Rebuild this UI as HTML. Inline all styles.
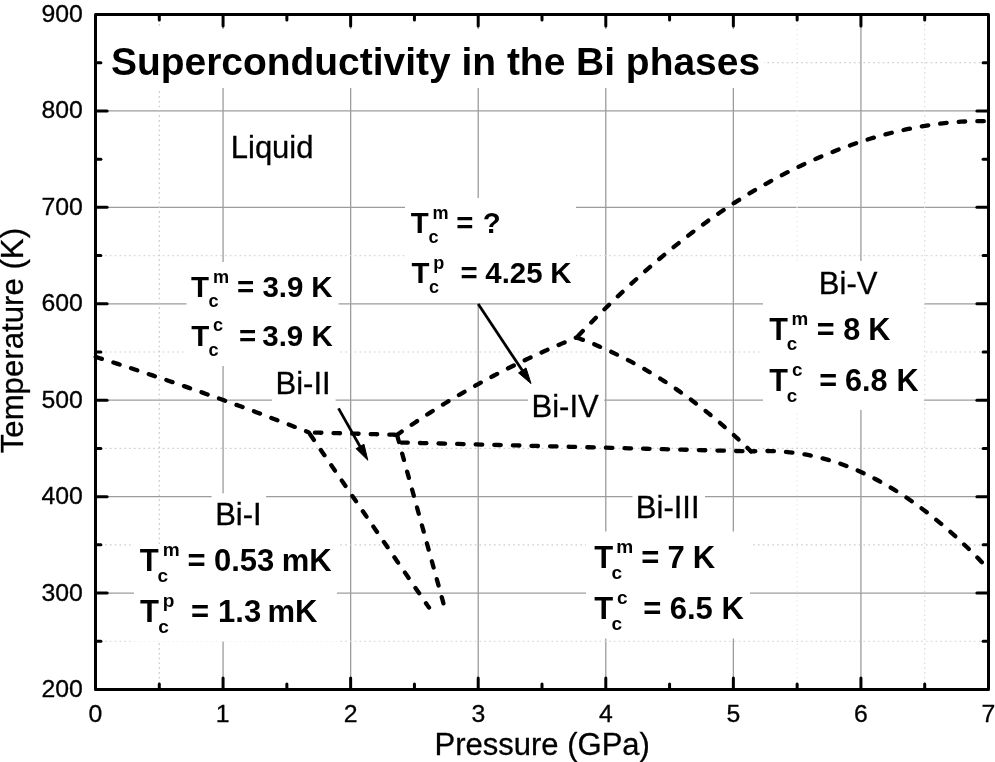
<!DOCTYPE html>
<html><head><meta charset="utf-8"><title>Superconductivity in the Bi phases</title>
<style>html,body{margin:0;padding:0;background:#fff;}body{width:995px;height:762px;overflow:hidden;}svg{display:block;filter:grayscale(100%);}</style>
</head><body>
<svg width="995" height="762" viewBox="0 0 995 762">
<rect x="0" y="0" width="995" height="762" fill="#fff"/>
<line x1="223.07" y1="14.50" x2="223.07" y2="689.50" stroke="#9c9c9c" stroke-width="1.3"/>
<line x1="350.64" y1="14.50" x2="350.64" y2="689.50" stroke="#9c9c9c" stroke-width="1.3"/>
<line x1="478.21" y1="14.50" x2="478.21" y2="689.50" stroke="#9c9c9c" stroke-width="1.3"/>
<line x1="605.79" y1="14.50" x2="605.79" y2="689.50" stroke="#9c9c9c" stroke-width="1.3"/>
<line x1="733.36" y1="14.50" x2="733.36" y2="689.50" stroke="#9c9c9c" stroke-width="1.3"/>
<line x1="860.93" y1="14.50" x2="860.93" y2="689.50" stroke="#9c9c9c" stroke-width="1.3"/>
<line x1="95.50" y1="593.07" x2="988.50" y2="593.07" stroke="#9c9c9c" stroke-width="1.3"/>
<line x1="95.50" y1="496.64" x2="988.50" y2="496.64" stroke="#9c9c9c" stroke-width="1.3"/>
<line x1="95.50" y1="400.21" x2="988.50" y2="400.21" stroke="#9c9c9c" stroke-width="1.3"/>
<line x1="95.50" y1="303.79" x2="988.50" y2="303.79" stroke="#9c9c9c" stroke-width="1.3"/>
<line x1="95.50" y1="207.36" x2="988.50" y2="207.36" stroke="#9c9c9c" stroke-width="1.3"/>
<line x1="95.50" y1="110.93" x2="988.50" y2="110.93" stroke="#9c9c9c" stroke-width="1.3"/>
<line x1="159.29" y1="14.50" x2="159.29" y2="689.50" stroke="#c6c6c6" stroke-width="1.2" stroke-dasharray="1.6 3.2"/>
<line x1="797.14" y1="14.50" x2="797.14" y2="689.50" stroke="#ececec" stroke-width="1.2" stroke-dasharray="1.6 3.2"/>
<line x1="924.71" y1="14.50" x2="924.71" y2="689.50" stroke="#dcdcdc" stroke-width="1.2" stroke-dasharray="1.6 3.2"/>
<line x1="95.50" y1="62.71" x2="988.50" y2="62.71" stroke="#cccccc" stroke-width="1.2" stroke-dasharray="1.6 3.2"/>
<line x1="95.50" y1="255.57" x2="988.50" y2="255.57" stroke="#d6d6d6" stroke-width="1.2" stroke-dasharray="1.6 3.2"/>
<line x1="95.50" y1="352.00" x2="988.50" y2="352.00" stroke="#cccccc" stroke-width="1.2" stroke-dasharray="1.6 3.2"/>
<line x1="95.50" y1="448.43" x2="988.50" y2="448.43" stroke="#cdcdcd" stroke-width="1.2" stroke-dasharray="1.6 3.2"/>
<line x1="95.50" y1="544.86" x2="988.50" y2="544.86" stroke="#cccccc" stroke-width="1.2" stroke-dasharray="1.6 3.2"/>
<line x1="95.50" y1="641.29" x2="988.50" y2="641.29" stroke="#dadada" stroke-width="1.2" stroke-dasharray="1.6 3.2"/>
<rect x="101" y="29" width="663.00" height="59.00" fill="#fff"/>
<rect x="226" y="124" width="94.00" height="44.00" fill="#fff"/>
<rect x="186.5" y="262" width="152.00" height="104.00" fill="#fff"/>
<rect x="405" y="198" width="171.00" height="105.00" fill="#fff"/>
<rect x="272" y="362" width="63.60" height="43.00" fill="#fff"/>
<rect x="211.6" y="493.3" width="54.50" height="51.70" fill="#fff"/>
<rect x="134" y="544" width="203.00" height="97.60" fill="#fff"/>
<rect x="528" y="385" width="76.20" height="42.00" fill="#fff"/>
<rect x="763" y="261" width="161.00" height="149.00" fill="#fff"/>
<rect x="632.5" y="488" width="72.50" height="40.00" fill="#fff"/>
<rect x="586" y="531.5" width="164.00" height="107.10" fill="#fff"/>
<path d="M95.50,356.80 L99.07,357.95 L102.64,359.08 L106.21,360.21 L109.78,361.35 L113.35,362.50 L116.92,363.65 L120.49,364.80 L124.06,365.96 L127.63,367.12 L131.20,368.29 L134.77,369.46 L138.34,370.64 L141.91,371.82 L145.48,373.01 L149.05,374.20 L152.62,375.40 L156.19,376.60 L159.76,377.81 L163.33,379.02 L166.90,380.23 L170.47,381.45 L174.04,382.68 L177.61,383.91 L181.18,385.14 L184.75,386.38 L188.32,387.63 L191.89,388.87 L195.46,390.13 L199.03,391.39 L202.60,392.65 L206.17,393.92 L209.74,395.19 L213.31,396.46 L216.88,397.75 L220.45,399.03 L224.02,400.32 L227.59,401.62 L231.16,402.92 L234.73,404.23 L238.29,405.54 L241.86,406.85 L245.43,408.17 L249.00,409.49 L252.57,410.82 L256.14,412.16 L259.71,413.50 L263.28,414.84 L266.85,416.19 L270.42,417.54 L273.99,418.90 L277.56,420.26 L281.13,421.63 L284.70,423.00 L288.27,424.37 L291.84,425.75 L295.41,427.14 L298.98,428.53 L302.55,429.93 L306.12,431.33 L308.80,432.40" stroke="#000" stroke-width="4.3" fill="none" stroke-linecap="round" stroke-linejoin="round" stroke-dasharray="6.5 12.10" stroke-dashoffset="18.42"/>
<path d="M308.80,432.40 L310.77,435.33 L312.78,438.26 L314.80,441.20 L316.81,444.13 L318.82,447.06 L320.83,449.99 L322.84,452.93 L324.85,455.86 L326.87,458.79 L328.88,461.72 L330.89,464.65 L332.90,467.59 L334.91,470.52 L336.92,473.45 L338.93,476.38 L340.95,479.32 L342.96,482.25 L344.97,485.18 L346.98,488.11 L348.99,491.04 L351.00,493.98 L353.02,496.91 L355.03,499.84 L357.04,502.77 L359.05,505.71 L361.06,508.64 L363.07,511.57 L365.09,514.50 L367.10,517.43 L369.11,520.37 L371.12,523.30 L373.13,526.23 L375.14,529.16 L377.15,532.10 L379.17,535.03 L381.18,537.96 L383.19,540.89 L385.20,543.82 L387.21,546.76 L389.22,549.69 L391.24,552.62 L393.25,555.55 L395.26,558.49 L397.27,561.42 L399.28,564.35 L401.29,567.28 L403.31,570.21 L405.32,573.15 L407.33,576.08 L409.34,579.01 L411.35,581.94 L413.36,584.88 L415.37,587.81 L417.39,590.74 L419.40,593.67 L421.41,596.60 L423.42,599.54 L425.43,602.47 L427.44,605.40 L429.00,607.60" stroke="#000" stroke-width="4.3" fill="none" stroke-linecap="round" stroke-linejoin="round" stroke-dasharray="6.5 12.10" stroke-dashoffset="15.98"/>
<path d="M308.80,432.40 L310.28,432.46 L311.76,432.50 L313.23,432.54 L314.71,432.58 L316.19,432.62 L317.67,432.66 L319.14,432.70 L320.62,432.74 L322.10,432.78 L323.58,432.82 L325.06,432.86 L326.53,432.90 L328.01,432.94 L329.49,432.98 L330.97,433.02 L332.45,433.06 L333.92,433.10 L335.40,433.14 L336.88,433.18 L338.36,433.22 L339.83,433.26 L341.31,433.30 L342.79,433.34 L344.27,433.38 L345.75,433.42 L347.22,433.46 L348.70,433.50 L350.18,433.54 L351.66,433.58 L353.13,433.62 L354.61,433.66 L356.09,433.70 L357.57,433.74 L359.05,433.78 L360.52,433.82 L362.00,433.86 L363.48,433.90 L364.96,433.94 L366.44,433.98 L367.91,434.02 L369.39,434.06 L370.87,434.10 L372.35,434.14 L373.82,434.18 L375.30,434.22 L376.78,434.26 L378.26,434.30 L379.74,434.34 L381.21,434.38 L382.69,434.42 L384.17,434.46 L385.65,434.51 L387.12,434.55 L388.60,434.59 L390.08,434.63 L391.56,434.67 L393.04,434.71 L394.51,434.75 L395.99,434.79 L397.10,434.80" stroke="#000" stroke-width="4.3" fill="none" stroke-linecap="round" stroke-linejoin="round" stroke-dasharray="6.5 12.10" stroke-dashoffset="12.48"/>
<path d="M397.10,434.80 L397.79,437.65 L398.58,440.50 L399.36,443.35 L400.15,446.19 L400.93,449.04 L401.72,451.89 L402.50,454.74 L403.29,457.59 L404.07,460.44 L404.86,463.29 L405.64,466.13 L406.43,468.98 L407.21,471.83 L408.00,474.68 L408.78,477.53 L409.57,480.38 L410.35,483.23 L411.14,486.07 L411.92,488.92 L412.71,491.77 L413.49,494.62 L414.28,497.47 L415.06,500.32 L415.84,503.16 L416.63,506.01 L417.41,508.86 L418.20,511.71 L418.98,514.56 L419.77,517.41 L420.55,520.26 L421.34,523.10 L422.12,525.95 L422.91,528.80 L423.69,531.65 L424.48,534.50 L425.26,537.35 L426.05,540.20 L426.83,543.04 L427.62,545.89 L428.40,548.74 L429.19,551.59 L429.97,554.44 L430.76,557.29 L431.54,560.14 L432.33,562.98 L433.11,565.83 L433.90,568.68 L434.68,571.53 L435.47,574.38 L436.25,577.23 L437.04,580.08 L437.82,582.92 L438.61,585.77 L439.39,588.62 L440.18,591.47 L440.96,594.32 L441.75,597.17 L442.53,600.02 L443.32,602.86 L444.00,605.00" stroke="#000" stroke-width="4.3" fill="none" stroke-linecap="round" stroke-linejoin="round" stroke-dasharray="6.5 12.10" stroke-dashoffset="17.67"/>
<path d="M397.10,434.80 L400.10,432.69 L403.11,430.59 L406.11,428.52 L409.11,426.47 L412.11,424.43 L415.12,422.42 L418.12,420.42 L421.12,418.44 L424.12,416.47 L427.13,414.53 L430.13,412.60 L433.13,410.69 L436.13,408.80 L439.14,406.93 L442.14,405.07 L445.14,403.23 L448.14,401.40 L451.15,399.60 L454.15,397.81 L457.15,396.03 L460.15,394.28 L463.16,392.54 L466.16,390.81 L469.16,389.10 L472.16,387.41 L475.17,385.73 L478.17,384.07 L481.17,382.43 L484.17,380.80 L487.18,379.18 L490.18,377.58 L493.18,376.00 L496.18,374.43 L499.19,372.87 L502.19,371.33 L505.19,369.80 L508.19,368.29 L511.20,366.80 L514.20,365.31 L517.20,363.84 L520.20,362.39 L523.21,360.95 L526.21,359.52 L529.21,358.10 L532.21,356.70 L535.22,355.31 L538.22,353.94 L541.22,352.58 L544.22,351.23 L547.23,349.89 L550.23,348.57 L553.23,347.26 L556.23,345.96 L559.24,344.67 L562.24,343.39 L565.24,342.13 L568.24,340.88 L571.25,339.64 L574.25,338.41 L576.50,337.50" stroke="#000" stroke-width="4.3" fill="none" stroke-linecap="round" stroke-linejoin="round" stroke-dasharray="6.5 12.10" stroke-dashoffset="0.85"/>
<path d="M399.30,442.50 L405.19,442.63 L411.07,442.78 L416.96,442.93 L422.84,443.08 L428.73,443.22 L434.62,443.37 L440.50,443.52 L446.39,443.67 L452.28,443.82 L458.16,443.97 L464.05,444.12 L469.93,444.27 L475.82,444.42 L481.71,444.57 L487.59,444.72 L493.48,444.86 L499.37,445.01 L505.25,445.16 L511.14,445.31 L517.02,445.46 L522.91,445.61 L528.80,445.76 L534.68,445.91 L540.57,446.06 L546.45,446.21 L552.34,446.36 L558.23,446.51 L564.11,446.65 L570.00,446.80 L575.89,446.95 L581.77,447.10 L587.66,447.25 L593.54,447.40 L599.43,447.55 L605.32,447.70 L611.20,447.85 L617.09,448.00 L622.98,448.15 L628.86,448.29 L634.75,448.44 L640.63,448.59 L646.52,448.74 L652.41,448.89 L658.29,449.04 L664.18,449.19 L670.06,449.34 L675.95,449.49 L681.84,449.64 L687.72,449.79 L693.61,449.93 L699.50,450.08 L705.38,450.23 L711.27,450.38 L717.15,450.53 L723.04,450.68 L728.93,450.83 L734.81,450.98 L740.70,451.13 L746.59,451.28 L751.00,451.40" stroke="#000" stroke-width="4.3" fill="none" stroke-linecap="round" stroke-linejoin="round" stroke-dasharray="6.5 12.10" stroke-dashoffset="16.57"/>
<path d="M576.50,337.50 L579.42,338.57 L582.34,339.65 L585.26,340.77 L588.18,341.91 L591.10,343.08 L594.02,344.27 L596.94,345.49 L599.86,346.73 L602.78,348.00 L605.71,349.30 L608.63,350.62 L611.55,351.97 L614.47,353.35 L617.39,354.75 L620.31,356.19 L623.23,357.65 L626.15,359.13 L629.07,360.65 L631.99,362.19 L634.91,363.77 L637.83,365.37 L640.75,367.00 L643.67,368.66 L646.59,370.34 L649.51,372.06 L652.43,373.81 L655.35,375.58 L658.27,377.39 L661.19,379.23 L664.12,381.09 L667.04,382.99 L669.96,384.92 L672.88,386.88 L675.80,388.87 L678.72,390.89 L681.64,392.94 L684.56,395.03 L687.48,397.14 L690.40,399.29 L693.32,401.47 L696.24,403.68 L699.16,405.93 L702.08,408.21 L705.00,410.52 L707.92,412.86 L710.84,415.24 L713.76,417.65 L716.68,420.09 L719.60,422.57 L722.53,425.08 L725.45,427.63 L728.37,430.21 L731.29,432.83 L734.21,435.48 L737.13,438.16 L740.05,440.88 L742.97,443.64 L745.89,446.43 L748.81,449.26 L751.00,451.40" stroke="#000" stroke-width="4.3" fill="none" stroke-linecap="round" stroke-linejoin="round" stroke-dasharray="6.5 12.10" stroke-dashoffset="18.24"/>
<path d="M576.50,337.50 L583.36,330.45 L590.23,323.45 L597.09,316.55 L603.95,309.75 L610.82,303.05 L617.68,296.46 L624.55,289.98 L631.41,283.61 L638.27,277.37 L645.14,271.23 L652.00,265.23 L658.86,259.34 L665.73,253.57 L672.59,247.94 L679.45,242.42 L686.32,237.04 L693.18,231.78 L700.04,226.64 L706.91,221.64 L713.77,216.76 L720.64,212.01 L727.50,207.39 L734.36,202.89 L741.23,198.52 L748.09,194.27 L754.95,190.15 L761.82,186.15 L768.68,182.28 L775.54,178.52 L782.41,174.89 L789.27,171.37 L796.14,167.98 L803.00,164.71 L809.86,161.55 L816.73,158.51 L823.59,155.58 L830.45,152.77 L837.32,150.08 L844.18,147.50 L851.04,145.03 L857.91,142.68 L864.77,140.45 L871.63,138.32 L878.50,136.32 L885.36,134.43 L892.23,132.65 L899.09,131.00 L905.95,129.46 L912.82,128.05 L919.68,126.76 L926.54,125.59 L933.41,124.55 L940.27,123.64 L947.13,122.86 L954.00,122.23 L960.86,121.73 L967.73,121.38 L974.59,121.18 L981.45,121.13 L986.60,121.20" stroke="#000" stroke-width="4.3" fill="none" stroke-linecap="round" stroke-linejoin="round" stroke-dasharray="6.5 12.10" stroke-dashoffset="16.07"/>
<path d="M751.00,451.40 L754.87,451.23 L758.74,451.09 L762.60,451.02 L766.47,451.01 L770.34,451.06 L774.21,451.18 L778.07,451.36 L781.94,451.60 L785.81,451.91 L789.68,452.29 L793.55,452.73 L797.41,453.25 L801.28,453.83 L805.15,454.49 L809.02,455.22 L812.88,456.01 L816.75,456.89 L820.62,457.83 L824.49,458.84 L828.36,459.93 L832.22,461.09 L836.09,462.33 L839.96,463.64 L843.83,465.02 L847.69,466.48 L851.56,468.01 L855.43,469.61 L859.30,471.29 L863.17,473.04 L867.03,474.86 L870.90,476.76 L874.77,478.73 L878.64,480.77 L882.50,482.89 L886.37,485.08 L890.24,487.34 L894.11,489.68 L897.98,492.09 L901.84,494.57 L905.71,497.12 L909.58,499.74 L913.45,502.44 L917.31,505.21 L921.18,508.05 L925.05,510.96 L928.92,513.95 L932.79,517.00 L936.65,520.13 L940.52,523.33 L944.39,526.60 L948.26,529.95 L952.12,533.37 L955.99,536.86 L959.86,540.43 L963.73,544.07 L967.60,547.78 L971.46,551.57 L975.33,555.44 L979.20,559.38 L982.10,562.40" stroke="#000" stroke-width="4.3" fill="none" stroke-linecap="round" stroke-linejoin="round" stroke-dasharray="6.5 12.10" stroke-dashoffset="2.18"/>
<line x1="338.5" y1="408.4" x2="361.01" y2="448.19" stroke="#000" stroke-width="2.8"/>
<path d="M367.80,460.20 L356.10,448.66 L363.94,444.23 Z" fill="#000" stroke="#000" stroke-width="1" stroke-linejoin="round"/>
<line x1="478.2" y1="304.0" x2="523.37" y2="372.10" stroke="#000" stroke-width="2.8"/>
<path d="M531.00,383.60 L518.52,372.92 L526.02,367.95 Z" fill="#000" stroke="#000" stroke-width="1" stroke-linejoin="round"/>
<rect x="95.5" y="14.5" width="893.0" height="675.0" fill="none" stroke="#000" stroke-width="3" stroke-linejoin="round"/>
<line x1="159.29" y1="689.50" x2="159.29" y2="684.10" stroke="#000" stroke-width="3" stroke-linecap="round"/>
<line x1="159.29" y1="14.50" x2="159.29" y2="19.90" stroke="#000" stroke-width="3" stroke-linecap="round"/>
<line x1="223.07" y1="689.50" x2="223.07" y2="677.90" stroke="#000" stroke-width="3" stroke-linecap="round"/>
<line x1="223.07" y1="14.50" x2="223.07" y2="26.10" stroke="#000" stroke-width="3" stroke-linecap="round"/>
<line x1="286.86" y1="689.50" x2="286.86" y2="684.10" stroke="#000" stroke-width="3" stroke-linecap="round"/>
<line x1="286.86" y1="14.50" x2="286.86" y2="19.90" stroke="#000" stroke-width="3" stroke-linecap="round"/>
<line x1="350.64" y1="689.50" x2="350.64" y2="677.90" stroke="#000" stroke-width="3" stroke-linecap="round"/>
<line x1="350.64" y1="14.50" x2="350.64" y2="26.10" stroke="#000" stroke-width="3" stroke-linecap="round"/>
<line x1="414.43" y1="689.50" x2="414.43" y2="684.10" stroke="#000" stroke-width="3" stroke-linecap="round"/>
<line x1="414.43" y1="14.50" x2="414.43" y2="19.90" stroke="#000" stroke-width="3" stroke-linecap="round"/>
<line x1="478.21" y1="689.50" x2="478.21" y2="677.90" stroke="#000" stroke-width="3" stroke-linecap="round"/>
<line x1="478.21" y1="14.50" x2="478.21" y2="26.10" stroke="#000" stroke-width="3" stroke-linecap="round"/>
<line x1="542.00" y1="689.50" x2="542.00" y2="684.10" stroke="#000" stroke-width="3" stroke-linecap="round"/>
<line x1="542.00" y1="14.50" x2="542.00" y2="19.90" stroke="#000" stroke-width="3" stroke-linecap="round"/>
<line x1="605.79" y1="689.50" x2="605.79" y2="677.90" stroke="#000" stroke-width="3" stroke-linecap="round"/>
<line x1="605.79" y1="14.50" x2="605.79" y2="26.10" stroke="#000" stroke-width="3" stroke-linecap="round"/>
<line x1="669.57" y1="689.50" x2="669.57" y2="684.10" stroke="#000" stroke-width="3" stroke-linecap="round"/>
<line x1="669.57" y1="14.50" x2="669.57" y2="19.90" stroke="#000" stroke-width="3" stroke-linecap="round"/>
<line x1="733.36" y1="689.50" x2="733.36" y2="677.90" stroke="#000" stroke-width="3" stroke-linecap="round"/>
<line x1="733.36" y1="14.50" x2="733.36" y2="26.10" stroke="#000" stroke-width="3" stroke-linecap="round"/>
<line x1="797.14" y1="689.50" x2="797.14" y2="684.10" stroke="#000" stroke-width="3" stroke-linecap="round"/>
<line x1="797.14" y1="14.50" x2="797.14" y2="19.90" stroke="#000" stroke-width="3" stroke-linecap="round"/>
<line x1="860.93" y1="689.50" x2="860.93" y2="677.90" stroke="#000" stroke-width="3" stroke-linecap="round"/>
<line x1="860.93" y1="14.50" x2="860.93" y2="26.10" stroke="#000" stroke-width="3" stroke-linecap="round"/>
<line x1="924.71" y1="689.50" x2="924.71" y2="684.10" stroke="#000" stroke-width="3" stroke-linecap="round"/>
<line x1="924.71" y1="14.50" x2="924.71" y2="19.90" stroke="#000" stroke-width="3" stroke-linecap="round"/>
<line x1="95.50" y1="641.29" x2="100.90" y2="641.29" stroke="#000" stroke-width="3" stroke-linecap="round"/>
<line x1="988.50" y1="641.29" x2="983.10" y2="641.29" stroke="#000" stroke-width="3" stroke-linecap="round"/>
<line x1="95.50" y1="593.07" x2="107.10" y2="593.07" stroke="#000" stroke-width="3" stroke-linecap="round"/>
<line x1="988.50" y1="593.07" x2="976.90" y2="593.07" stroke="#000" stroke-width="3" stroke-linecap="round"/>
<line x1="95.50" y1="544.86" x2="100.90" y2="544.86" stroke="#000" stroke-width="3" stroke-linecap="round"/>
<line x1="988.50" y1="544.86" x2="983.10" y2="544.86" stroke="#000" stroke-width="3" stroke-linecap="round"/>
<line x1="95.50" y1="496.64" x2="107.10" y2="496.64" stroke="#000" stroke-width="3" stroke-linecap="round"/>
<line x1="988.50" y1="496.64" x2="976.90" y2="496.64" stroke="#000" stroke-width="3" stroke-linecap="round"/>
<line x1="95.50" y1="448.43" x2="100.90" y2="448.43" stroke="#000" stroke-width="3" stroke-linecap="round"/>
<line x1="988.50" y1="448.43" x2="983.10" y2="448.43" stroke="#000" stroke-width="3" stroke-linecap="round"/>
<line x1="95.50" y1="400.21" x2="107.10" y2="400.21" stroke="#000" stroke-width="3" stroke-linecap="round"/>
<line x1="988.50" y1="400.21" x2="976.90" y2="400.21" stroke="#000" stroke-width="3" stroke-linecap="round"/>
<line x1="95.50" y1="352.00" x2="100.90" y2="352.00" stroke="#000" stroke-width="3" stroke-linecap="round"/>
<line x1="988.50" y1="352.00" x2="983.10" y2="352.00" stroke="#000" stroke-width="3" stroke-linecap="round"/>
<line x1="95.50" y1="303.79" x2="107.10" y2="303.79" stroke="#000" stroke-width="3" stroke-linecap="round"/>
<line x1="988.50" y1="303.79" x2="976.90" y2="303.79" stroke="#000" stroke-width="3" stroke-linecap="round"/>
<line x1="95.50" y1="255.57" x2="100.90" y2="255.57" stroke="#000" stroke-width="3" stroke-linecap="round"/>
<line x1="988.50" y1="255.57" x2="983.10" y2="255.57" stroke="#000" stroke-width="3" stroke-linecap="round"/>
<line x1="95.50" y1="207.36" x2="107.10" y2="207.36" stroke="#000" stroke-width="3" stroke-linecap="round"/>
<line x1="988.50" y1="207.36" x2="976.90" y2="207.36" stroke="#000" stroke-width="3" stroke-linecap="round"/>
<line x1="95.50" y1="159.14" x2="100.90" y2="159.14" stroke="#000" stroke-width="3" stroke-linecap="round"/>
<line x1="988.50" y1="159.14" x2="983.10" y2="159.14" stroke="#000" stroke-width="3" stroke-linecap="round"/>
<line x1="95.50" y1="110.93" x2="107.10" y2="110.93" stroke="#000" stroke-width="3" stroke-linecap="round"/>
<line x1="988.50" y1="110.93" x2="976.90" y2="110.93" stroke="#000" stroke-width="3" stroke-linecap="round"/>
<line x1="95.50" y1="62.71" x2="100.90" y2="62.71" stroke="#000" stroke-width="3" stroke-linecap="round"/>
<line x1="988.50" y1="62.71" x2="983.10" y2="62.71" stroke="#000" stroke-width="3" stroke-linecap="round"/>
<text x="41.39" y="697.00" style="font-family:'Liberation Sans',sans-serif;font-size:24.8px;font-weight:normal;stroke:#000;stroke-width:0.3px"  xml:space="preserve">200</text>
<text x="41.39" y="600.57" style="font-family:'Liberation Sans',sans-serif;font-size:24.8px;font-weight:normal;stroke:#000;stroke-width:0.3px"  xml:space="preserve">300</text>
<text x="41.39" y="504.14" style="font-family:'Liberation Sans',sans-serif;font-size:24.8px;font-weight:normal;stroke:#000;stroke-width:0.3px"  xml:space="preserve">400</text>
<text x="41.39" y="407.71" style="font-family:'Liberation Sans',sans-serif;font-size:24.8px;font-weight:normal;stroke:#000;stroke-width:0.3px"  xml:space="preserve">500</text>
<text x="41.39" y="311.29" style="font-family:'Liberation Sans',sans-serif;font-size:24.8px;font-weight:normal;stroke:#000;stroke-width:0.3px"  xml:space="preserve">600</text>
<text x="41.39" y="214.86" style="font-family:'Liberation Sans',sans-serif;font-size:24.8px;font-weight:normal;stroke:#000;stroke-width:0.3px"  xml:space="preserve">700</text>
<text x="41.39" y="118.43" style="font-family:'Liberation Sans',sans-serif;font-size:24.8px;font-weight:normal;stroke:#000;stroke-width:0.3px"  xml:space="preserve">800</text>
<text x="41.39" y="22.00" style="font-family:'Liberation Sans',sans-serif;font-size:24.8px;font-weight:normal;stroke:#000;stroke-width:0.3px"  xml:space="preserve">900</text>
<text x="88.60" y="721.60" style="font-family:'Liberation Sans',sans-serif;font-size:24.8px;font-weight:normal;stroke:#000;stroke-width:0.3px"  xml:space="preserve">0</text>
<text x="215.84" y="721.60" style="font-family:'Liberation Sans',sans-serif;font-size:24.8px;font-weight:normal;stroke:#000;stroke-width:0.3px"  xml:space="preserve">1</text>
<text x="343.75" y="721.60" style="font-family:'Liberation Sans',sans-serif;font-size:24.8px;font-weight:normal;stroke:#000;stroke-width:0.3px"  xml:space="preserve">2</text>
<text x="471.39" y="721.60" style="font-family:'Liberation Sans',sans-serif;font-size:24.8px;font-weight:normal;stroke:#000;stroke-width:0.3px"  xml:space="preserve">3</text>
<text x="598.97" y="721.60" style="font-family:'Liberation Sans',sans-serif;font-size:24.8px;font-weight:normal;stroke:#000;stroke-width:0.3px"  xml:space="preserve">4</text>
<text x="726.49" y="721.60" style="font-family:'Liberation Sans',sans-serif;font-size:24.8px;font-weight:normal;stroke:#000;stroke-width:0.3px"  xml:space="preserve">5</text>
<text x="853.95" y="721.60" style="font-family:'Liberation Sans',sans-serif;font-size:24.8px;font-weight:normal;stroke:#000;stroke-width:0.3px"  xml:space="preserve">6</text>
<text x="981.59" y="721.60" style="font-family:'Liberation Sans',sans-serif;font-size:24.8px;font-weight:normal;stroke:#000;stroke-width:0.3px"  xml:space="preserve">7</text>
<text x="434.56" y="755.20" style="font-family:'Liberation Sans',sans-serif;font-size:31px;font-weight:normal;stroke:#000;stroke-width:0.3px"  xml:space="preserve">Pressure (GPa)</text>
<text transform="translate(23,453.30) rotate(-90)" x="0" y="0" style="font-family:'Liberation Sans',sans-serif;font-size:31.2px;stroke:#000;stroke-width:0.3px">Temperature (K)</text>
<text x="110.98" y="74.60" style="font-family:'Liberation Sans',sans-serif;font-size:38.95px;font-weight:bold"  xml:space="preserve">Superconductivity in the Bi phases</text>
<text x="230.76" y="157.60" style="font-family:'Liberation Sans',sans-serif;font-size:31px;font-weight:normal;stroke:#000;stroke-width:0.3px"  xml:space="preserve">Liquid</text>
<text x="275.56" y="394.40" style="font-family:'Liberation Sans',sans-serif;font-size:31px;font-weight:normal;stroke:#000;stroke-width:0.3px"  xml:space="preserve">Bi-II</text>
<text x="215.16" y="525.30" style="font-family:'Liberation Sans',sans-serif;font-size:31px;font-weight:normal;stroke:#000;stroke-width:0.3px"  xml:space="preserve">Bi-I</text>
<text x="531.56" y="417.30" style="font-family:'Liberation Sans',sans-serif;font-size:31px;font-weight:normal;stroke:#000;stroke-width:0.3px"  xml:space="preserve">Bi-IV</text>
<text x="818.86" y="293.60" style="font-family:'Liberation Sans',sans-serif;font-size:31px;font-weight:normal;stroke:#000;stroke-width:0.3px"  xml:space="preserve">Bi-V</text>
<text x="635.86" y="518.40" style="font-family:'Liberation Sans',sans-serif;font-size:31px;font-weight:normal;stroke:#000;stroke-width:0.3px"  xml:space="preserve">Bi-III</text>
<text x="190.97" y="297.10" style="font-family:'Liberation Sans',sans-serif;font-size:29.5px;font-weight:bold"  xml:space="preserve">T</text>
<text x="212.90" y="282.65" style="font-family:'Liberation Sans',sans-serif;font-size:18.14px;font-weight:bold"  xml:space="preserve">m</text>
<text x="208.49" y="307.43" style="font-family:'Liberation Sans',sans-serif;font-size:18.14px;font-weight:bold"  xml:space="preserve">c</text>
<text x="237.08" y="297.10" style="font-family:'Liberation Sans',sans-serif;font-size:29.5px;font-weight:bold"  xml:space="preserve">=</text>
<text x="262.42" y="297.10" style="font-family:'Liberation Sans',sans-serif;font-size:29.5px;font-weight:bold"  xml:space="preserve">3.9</text>
<text x="311.13" y="297.10" style="font-family:'Liberation Sans',sans-serif;font-size:29.5px;font-weight:bold"  xml:space="preserve">K</text>
<text x="191.17" y="345.80" style="font-family:'Liberation Sans',sans-serif;font-size:29.5px;font-weight:bold"  xml:space="preserve">T</text>
<text x="213.09" y="331.35" style="font-family:'Liberation Sans',sans-serif;font-size:18.14px;font-weight:bold"  xml:space="preserve">c</text>
<text x="208.39" y="356.12" style="font-family:'Liberation Sans',sans-serif;font-size:18.14px;font-weight:bold"  xml:space="preserve">c</text>
<text x="239.08" y="345.80" style="font-family:'Liberation Sans',sans-serif;font-size:29.5px;font-weight:bold"  xml:space="preserve">=</text>
<text x="262.22" y="345.80" style="font-family:'Liberation Sans',sans-serif;font-size:29.5px;font-weight:bold"  xml:space="preserve">3.9</text>
<text x="311.53" y="345.80" style="font-family:'Liberation Sans',sans-serif;font-size:29.5px;font-weight:bold"  xml:space="preserve">K</text>
<text x="410.77" y="233.20" style="font-family:'Liberation Sans',sans-serif;font-size:29.4px;font-weight:bold"  xml:space="preserve">T</text>
<text x="432.51" y="218.79" style="font-family:'Liberation Sans',sans-serif;font-size:18.08px;font-weight:bold"  xml:space="preserve">m</text>
<text x="428.59" y="243.49" style="font-family:'Liberation Sans',sans-serif;font-size:18.08px;font-weight:bold"  xml:space="preserve">c</text>
<text x="456.28" y="233.20" style="font-family:'Liberation Sans',sans-serif;font-size:29.4px;font-weight:bold"  xml:space="preserve">=</text>
<text x="482.65" y="233.20" style="font-family:'Liberation Sans',sans-serif;font-size:29.4px;font-weight:bold"  xml:space="preserve">?</text>
<text x="411.47" y="283.10" style="font-family:'Liberation Sans',sans-serif;font-size:29.4px;font-weight:bold"  xml:space="preserve">T</text>
<text x="433.21" y="268.69" style="font-family:'Liberation Sans',sans-serif;font-size:18.08px;font-weight:bold"  xml:space="preserve">p</text>
<text x="429.09" y="293.39" style="font-family:'Liberation Sans',sans-serif;font-size:18.08px;font-weight:bold"  xml:space="preserve">c</text>
<text x="460.38" y="283.10" style="font-family:'Liberation Sans',sans-serif;font-size:29.4px;font-weight:bold"  xml:space="preserve">=</text>
<text x="485.35" y="283.10" style="font-family:'Liberation Sans',sans-serif;font-size:29.4px;font-weight:bold"  xml:space="preserve">4.25</text>
<text x="550.13" y="283.10" style="font-family:'Liberation Sans',sans-serif;font-size:29.4px;font-weight:bold"  xml:space="preserve">K</text>
<text x="139.65" y="570.70" style="font-family:'Liberation Sans',sans-serif;font-size:31px;font-weight:bold"  xml:space="preserve">T</text>
<text x="162.64" y="555.51" style="font-family:'Liberation Sans',sans-serif;font-size:19.07px;font-weight:bold"  xml:space="preserve">m</text>
<text x="157.56" y="581.55" style="font-family:'Liberation Sans',sans-serif;font-size:19.07px;font-weight:bold"  xml:space="preserve">c</text>
<text x="187.61" y="570.70" style="font-family:'Liberation Sans',sans-serif;font-size:31px;font-weight:bold"  xml:space="preserve">=</text>
<text x="213.97" y="570.70" style="font-family:'Liberation Sans',sans-serif;font-size:31px;font-weight:bold"  xml:space="preserve">0.53</text>
<text x="281.66" y="570.70" style="font-family:'Liberation Sans',sans-serif;font-size:31px;font-weight:bold"  xml:space="preserve">mK</text>
<text x="139.95" y="622.10" style="font-family:'Liberation Sans',sans-serif;font-size:31px;font-weight:bold"  xml:space="preserve">T</text>
<text x="162.74" y="606.91" style="font-family:'Liberation Sans',sans-serif;font-size:19.07px;font-weight:bold"  xml:space="preserve">p</text>
<text x="158.16" y="632.95" style="font-family:'Liberation Sans',sans-serif;font-size:19.07px;font-weight:bold"  xml:space="preserve">c</text>
<text x="191.01" y="622.10" style="font-family:'Liberation Sans',sans-serif;font-size:31px;font-weight:bold"  xml:space="preserve">=</text>
<text x="218.05" y="622.10" style="font-family:'Liberation Sans',sans-serif;font-size:31px;font-weight:bold"  xml:space="preserve">1.3</text>
<text x="267.56" y="622.10" style="font-family:'Liberation Sans',sans-serif;font-size:31px;font-weight:bold"  xml:space="preserve">mK</text>
<text x="769.16" y="339.70" style="font-family:'Liberation Sans',sans-serif;font-size:30.6px;font-weight:bold"  xml:space="preserve">T</text>
<text x="791.46" y="324.71" style="font-family:'Liberation Sans',sans-serif;font-size:18.82px;font-weight:bold"  xml:space="preserve">m</text>
<text x="786.76" y="350.41" style="font-family:'Liberation Sans',sans-serif;font-size:18.82px;font-weight:bold"  xml:space="preserve">c</text>
<text x="816.83" y="339.70" style="font-family:'Liberation Sans',sans-serif;font-size:30.6px;font-weight:bold"  xml:space="preserve">=</text>
<text x="843.13" y="339.70" style="font-family:'Liberation Sans',sans-serif;font-size:30.6px;font-weight:bold"  xml:space="preserve">8</text>
<text x="868.25" y="339.70" style="font-family:'Liberation Sans',sans-serif;font-size:30.6px;font-weight:bold"  xml:space="preserve">K</text>
<text x="769.16" y="391.20" style="font-family:'Liberation Sans',sans-serif;font-size:30.6px;font-weight:bold"  xml:space="preserve">T</text>
<text x="791.96" y="376.21" style="font-family:'Liberation Sans',sans-serif;font-size:18.82px;font-weight:bold"  xml:space="preserve">c</text>
<text x="786.76" y="401.91" style="font-family:'Liberation Sans',sans-serif;font-size:18.82px;font-weight:bold"  xml:space="preserve">c</text>
<text x="819.23" y="391.20" style="font-family:'Liberation Sans',sans-serif;font-size:30.6px;font-weight:bold"  xml:space="preserve">=</text>
<text x="845.08" y="391.20" style="font-family:'Liberation Sans',sans-serif;font-size:30.6px;font-weight:bold"  xml:space="preserve">6.8</text>
<text x="896.45" y="391.20" style="font-family:'Liberation Sans',sans-serif;font-size:30.6px;font-weight:bold"  xml:space="preserve">K</text>
<text x="594.15" y="567.70" style="font-family:'Liberation Sans',sans-serif;font-size:31px;font-weight:bold"  xml:space="preserve">T</text>
<text x="616.34" y="552.51" style="font-family:'Liberation Sans',sans-serif;font-size:19.07px;font-weight:bold"  xml:space="preserve">m</text>
<text x="611.46" y="578.55" style="font-family:'Liberation Sans',sans-serif;font-size:19.07px;font-weight:bold"  xml:space="preserve">c</text>
<text x="641.21" y="567.70" style="font-family:'Liberation Sans',sans-serif;font-size:31px;font-weight:bold"  xml:space="preserve">=</text>
<text x="667.47" y="567.70" style="font-family:'Liberation Sans',sans-serif;font-size:31px;font-weight:bold"  xml:space="preserve">7</text>
<text x="692.83" y="567.70" style="font-family:'Liberation Sans',sans-serif;font-size:31px;font-weight:bold"  xml:space="preserve">K</text>
<text x="594.15" y="619.20" style="font-family:'Liberation Sans',sans-serif;font-size:31px;font-weight:bold"  xml:space="preserve">T</text>
<text x="616.96" y="604.01" style="font-family:'Liberation Sans',sans-serif;font-size:19.07px;font-weight:bold"  xml:space="preserve">c</text>
<text x="611.46" y="630.05" style="font-family:'Liberation Sans',sans-serif;font-size:19.07px;font-weight:bold"  xml:space="preserve">c</text>
<text x="643.31" y="619.20" style="font-family:'Liberation Sans',sans-serif;font-size:31px;font-weight:bold"  xml:space="preserve">=</text>
<text x="669.76" y="619.20" style="font-family:'Liberation Sans',sans-serif;font-size:31px;font-weight:bold"  xml:space="preserve">6.5</text>
<text x="721.53" y="619.20" style="font-family:'Liberation Sans',sans-serif;font-size:31px;font-weight:bold"  xml:space="preserve">K</text>
</svg>
</body></html>
